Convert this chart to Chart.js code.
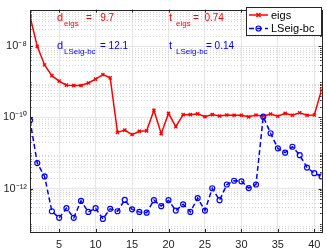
<!DOCTYPE html>
<html>
<head>
<meta charset="utf-8">
<script src="https://cdn.jsdelivr.net/npm/chart.js@4.4.1/dist/chart.umd.min.js"></script>
<style>
  html, body { margin: 0; padding: 0; background: #fff; }
  #wrap { width: 327px; height: 248px; position: relative; }
</style>
</head>
<body>
<div id="wrap"><canvas id="myChart"></canvas></div>
<script>
// Datos
const indices = [1, 2, 3, 4, 5, 6, 7, 8, 9, 10, 11, 12, 13, 14, 15, 16, 17, 18, 19, 20,
  21, 22, 23, 24, 25, 26, 27, 28, 29, 30, 31, 32, 33, 34, 35, 36, 37, 38, 39, 40, 41];
const eigsErr = [6.9e-8, 1.0e-8, 3.0e-9, 1.5e-9, 1.05e-9, 8.1e-10, 7.9e-10, 7.9e-10, 9.3e-10, 1.2e-9,
  1.6e-9, 1.3e-9, 3.8e-11, 4.4e-11, 3.3e-11, 4.1e-11, 4.2e-11, 1.6e-10, 3.5e-11, 1.3e-10,
  5.5e-11, 1.2e-10, 1.2e-10, 1.26e-10, 1.05e-10, 1.2e-10, 1.1e-10, 1.17e-10, 1.15e-10, 1.15e-10,
  1.04e-10, 1.17e-10, 1.08e-10, 1.25e-10, 1.08e-10, 1.3e-10, 1.15e-10, 1.35e-10, 1.15e-10, 1.17e-10,
  6.0e-10];
const lsEigErr = [8.3e-11, 5.2e-12, 2.2e-12, 2.3e-13, 1.5e-13, 2.8e-13, 1.5e-13, 4.5e-13, 2.2e-13, 2.8e-13,
  1.4e-13, 2.7e-13, 2.3e-13, 4.8e-13, 2.6e-13, 2.2e-13, 2.1e-13, 4.7e-13, 3.2e-13, 4.7e-13,
  2.4e-13, 3.6e-13, 2.2e-13, 5.4e-13, 2.4e-13, 1.02e-12, 4.7e-13, 1.3e-12, 1.66e-12, 1.6e-12,
  1.03e-12, 1.3e-12, 1.05e-10, 3.6e-11, 1.35e-11, 1.02e-11, 1.5e-11, 8.7e-12, 3.9e-12, 2.7e-12,
  2.2e-12];
const seriesNames = ["eigs", "LSeig-bc"];
const xTicks = [5, 10, 15, 20, 25, 30, 35, 40];
const yTicks = [1e-12, 1e-10, 1e-8];
const xRange = [1, 41];
const yRange = [6e-14, 1.08e-7];
// textos de anotación: [principal, subíndice, valor]
const noteEigsD = ["d", "eigs", "=   9.7"];
const noteEigsT = ["t", "eigs", "=  0.74"];
const noteLsD = ["d", "LSeig-bc", "= 12.1"];
const noteLsT = ["t", "LSeig-bc", "= 0.14"];

const RED = "#ff0000";
const BLUE = "#0000ff";
const AXIS = "#262626";
const FONT = "'Liberation Sans', Arial, Helvetica, sans-serif";

function sup(n) {
  const map = { "-": "\u207B", "0": "\u2070", "1": "\u00B9", "2": "\u00B2", "3": "\u00B3",
    "4": "\u2074", "5": "\u2075", "6": "\u2076", "7": "\u2077", "8": "\u2078", "9": "\u2079" };
  return String(n).split("").map(c => map[c]).join("");
}

// rejilla menor punteada, marcas hacia dentro y caja del eje
const axesDecor = {
  id: "axesDecor",
  beforeDatasetsDraw(chart) {
    const ctx = chart.ctx, a = chart.chartArea, y = chart.scales.y;
    ctx.save();
    ctx.strokeStyle = "#d8d8d8";
    ctx.lineWidth = 1;
    ctx.setLineDash([1, 2]);
    for (let e = -14; e <= -7; e++) {
      for (let k = 2; k <= 9; k++) {
        const v = k * Math.pow(10, e);
        if (v <= y.min || v >= y.max) continue;
        const py = Math.round(y.getPixelForValue(v)) + 0.5;
        ctx.beginPath(); ctx.moveTo(a.left, py); ctx.lineTo(a.right, py); ctx.stroke();
      }
    }
    ctx.restore();
  },
  afterDatasetsDraw(chart) {
    const ctx = chart.ctx, a = chart.chartArea, x = chart.scales.x, y = chart.scales.y;
    ctx.save();
    ctx.strokeStyle = AXIS;
    ctx.lineWidth = 1;
    ctx.beginPath();
    xTicks.forEach(v => {
      const px = Math.round(x.getPixelForValue(v)) + 0.5;
      ctx.moveTo(px, a.bottom); ctx.lineTo(px, a.bottom - 3);
      ctx.moveTo(px, a.top); ctx.lineTo(px, a.top + 3);
    });
    for (let e = -14; e <= -7; e++) {
      for (let k = 1; k <= 9; k++) {
        const v = k * Math.pow(10, e);
        if (v <= y.min || v >= y.max) continue;
        const len = (k === 1 && e % 2 === 0) ? 3 : 1.5;
        const py = Math.round(y.getPixelForValue(v)) + 0.5;
        ctx.moveTo(a.left, py); ctx.lineTo(a.left + len, py);
        ctx.moveTo(a.right, py); ctx.lineTo(a.right - len, py);
      }
    }
    ctx.stroke();
    ctx.strokeRect(Math.round(a.left) + 0.5, Math.round(a.top) + 0.5,
      Math.round(a.right - a.left), Math.round(a.bottom - a.top));
    ctx.restore();
  }
};

// anotaciones y leyenda
function drawNote(ctx, note, color, x, yBase, valueX) {
  ctx.fillStyle = color;
  ctx.textBaseline = "alphabetic";
  ctx.textAlign = "left";
  ctx.font = "11px " + FONT;
  ctx.fillText(note[0], x, yBase);
  ctx.font = "8px " + FONT;
  ctx.fillText(note[1], x + 7, yBase + 5);
  ctx.font = "10px " + FONT;
  ctx.fillText(note[2], valueX, yBase);
}

const overlay = {
  id: "overlay",
  afterDraw(chart) {
    const ctx = chart.ctx;
    ctx.save();
    drawNote(ctx, noteEigsD, RED, 57, 21, 86);
    drawNote(ctx, noteEigsT, RED, 169, 21, 193);
    drawNote(ctx, noteLsD, BLUE, 57, 49, 100);
    drawNote(ctx, noteLsT, BLUE, 169, 49, 206);

    // leyenda
    ctx.fillStyle = "#fff";
    ctx.fillRect(246.5, 7.5, 75, 28);
    ctx.strokeStyle = AXIS;
    ctx.lineWidth = 1;
    ctx.setLineDash([]);
    ctx.strokeRect(246.5, 7.5, 75, 28);

    ctx.lineWidth = 1.5;
    ctx.strokeStyle = RED;
    ctx.beginPath(); ctx.moveTo(249, 15); ctx.lineTo(268, 15); ctx.stroke();
    ctx.beginPath();
    ctx.moveTo(256.5, 13); ctx.lineTo(260.5, 17);
    ctx.moveTo(260.5, 13); ctx.lineTo(256.5, 17);
    ctx.stroke();

    ctx.strokeStyle = BLUE;
    ctx.setLineDash([5, 3]);
    ctx.beginPath(); ctx.moveTo(249, 28.5); ctx.lineTo(268, 28.5); ctx.stroke();
    ctx.setLineDash([]);
    ctx.lineWidth = 1.2;
    ctx.beginPath(); ctx.arc(258.5, 28.5, 2.5, 0, Math.PI * 2); ctx.stroke();

    ctx.fillStyle = "#000";
    ctx.font = "11px " + FONT;
    ctx.textBaseline = "middle";
    ctx.fillText(seriesNames[0], 271, 15.5);
    ctx.fillText(seriesNames[1], 271, 29);
    ctx.restore();
  }
};

const ctx = document.getElementById("myChart").getContext("2d");
window.myChart = new Chart(ctx, {
  type: "line",
  data: {
    datasets: [
      {
        label: seriesNames[0],
        data: indices.map((v, i) => ({ x: v, y: eigsErr[i] })),
        borderColor: RED,
        backgroundColor: RED,
        borderWidth: 1.5,
        pointStyle: "crossRot",
        pointRadius: 2.2,
        pointBorderWidth: 1.4,
        pointBorderColor: RED,
        order: 1,
      },
      {
        label: seriesNames[1],
        data: indices.map((v, i) => ({ x: v, y: lsEigErr[i] })),
        borderColor: BLUE,
        borderWidth: 1.5,
        borderDash: [5, 3],
        pointStyle: "circle",
        pointRadius: 2.5,
        pointBorderWidth: 1.2,
        pointBorderColor: BLUE,
        pointBackgroundColor: "rgba(255,255,255,0)",
        order: 0,
      },
    ],
  },
  options: {
    responsive: true,
    maintainAspectRatio: false,
    animation: false,
    layout: { padding: { left: 0, right: 3, top: 2, bottom: 0 } },
    plugins: {
      legend: { display: false },
      tooltip: { enabled: false },
    },
    scales: {
      x: {
        type: "linear",
        min: xRange[0],
        max: xRange[1],
        afterBuildTicks: s => { s.ticks = xTicks.map(v => ({ value: v })); },
        afterFit: s => { s.height = 16; },
        grid: { color: "#e6e6e6", lineWidth: 1, drawTicks: false },
        border: { display: false },
        ticks: { color: AXIS, font: { family: FONT, size: 11 }, padding: 6, maxRotation: 0 },
      },
      y: {
        type: "logarithmic",
        min: yRange[0],
        max: yRange[1],
        afterBuildTicks: s => { s.ticks = yTicks.map(v => ({ value: v })); },
        afterFit: s => { s.width = 30; },
        grid: { color: "#e6e6e6", lineWidth: 1, drawTicks: false },
        border: { display: false },
        ticks: {
          color: AXIS,
          font: { family: FONT, size: 11 },
          padding: 3,
          callback: v => "10" + sup(Math.round(Math.log10(v))),
        },
      },
    },
  },
  plugins: [axesDecor, overlay],
});
</script>
</body>
</html>
